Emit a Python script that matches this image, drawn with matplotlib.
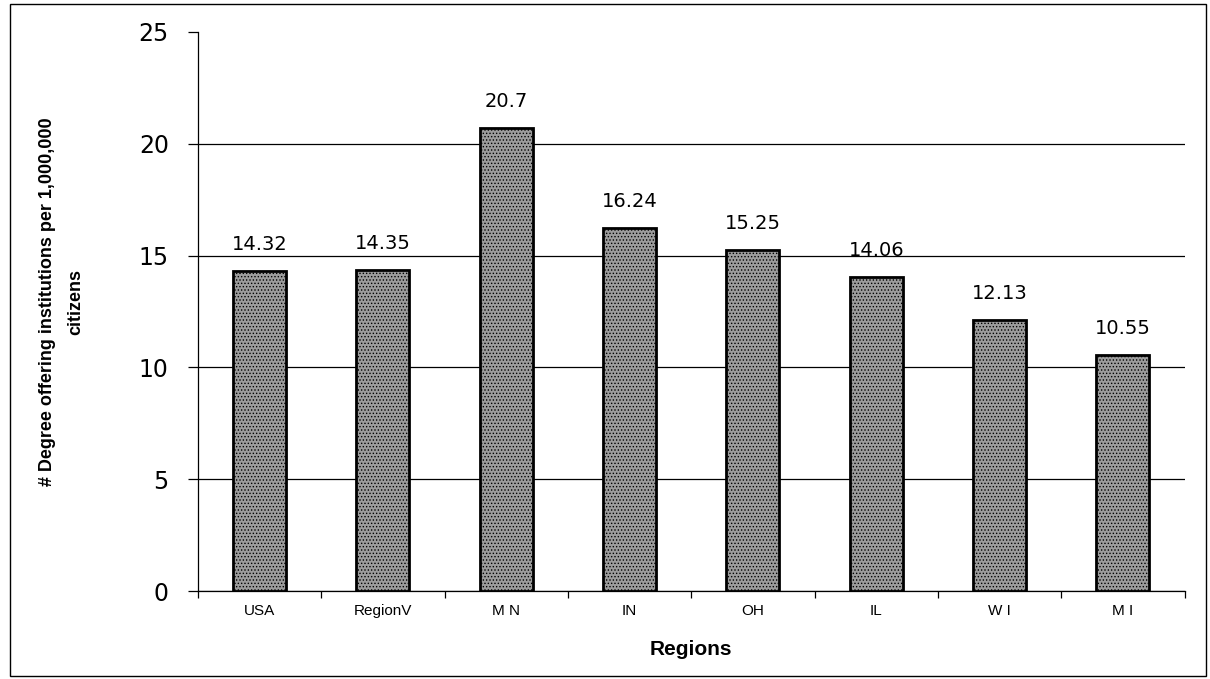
import numpy as np
import matplotlib.pyplot as plt
from matplotlib.patches import Rectangle

regions = ['USA', 'RegionV', 'M N', 'IN', 'OH', 'IL', 'W I', 'M I']
values = [14.32, 14.35, 20.7, 16.24, 15.25, 14.06, 12.13, 10.55]
value_labels = ['14.32', '14.35', '20.7', '16.24', '15.25', '14.06', '12.13', '10.55']
yticks = [0, 5, 10, 15, 20, 25]

plt.rcParams['font.family'] = ['Liberation Sans', 'DejaVu Sans']
plt.rcParams['hatch.linewidth'] = 0.6

fig = plt.figure(figsize=(12.1, 6.79), dpi=100)
ax = fig.add_axes([0.1636, 0.1296, 0.8154, 0.8233])

# border round the whole chart
fig.patches.append(Rectangle((0.008, 0.004), 0.989, 0.99, transform=fig.transFigure,
                             fill=False, edgecolor='black', linewidth=1.0))

x = np.arange(len(regions))
ax.bar(x, values, width=0.43, color='#9c9c9c', edgecolor='black',
       hatch='.....', linewidth=2.0, zorder=3)

for xi, v, lab in zip(x, values, value_labels):
    ax.annotate(lab, (xi, v), xytext=(0, 12), textcoords='offset points',
                ha='center', va='bottom', fontsize=14, family='DejaVu Sans')

ax.set_xlim(-0.5, len(regions) - 0.5)
ax.set_ylim(0, 25)
ax.set_yticks(yticks)
ax.yaxis.grid(True, color='black', linewidth=0.9, zorder=0)
ax.get_ygridlines()[-1].set_visible(False)
ax.set_axisbelow(True)

ax.set_xticks(x)
ax.set_xticklabels(regions, fontsize=11)
ax.set_xticks(np.arange(-0.5, len(regions)), minor=True)
ax.tick_params(axis='x', which='major', length=0, pad=9)
ax.tick_params(axis='x', which='minor', length=5, width=0.9)
ax.tick_params(axis='y', length=7, width=0.9, pad=14)
for t in ax.get_yticklabels():
    t.set_fontsize(17)
    t.set_family('DejaVu Sans')

for s in ['top', 'right']:
    ax.spines[s].set_visible(False)
for s in ['left', 'bottom']:
    ax.spines[s].set_linewidth(0.9)

ax.set_xlabel('Regions', fontsize=15, fontweight='bold', labelpad=16)
ax.set_ylabel('# Degree offering institutions per 1,000,000\ncitizens',
              fontsize=13, fontweight='bold', linespacing=1.9, va='center')
ax.yaxis.set_label_coords(-0.138, 0.517)

fig.savefig('out.png', dpi=100)
